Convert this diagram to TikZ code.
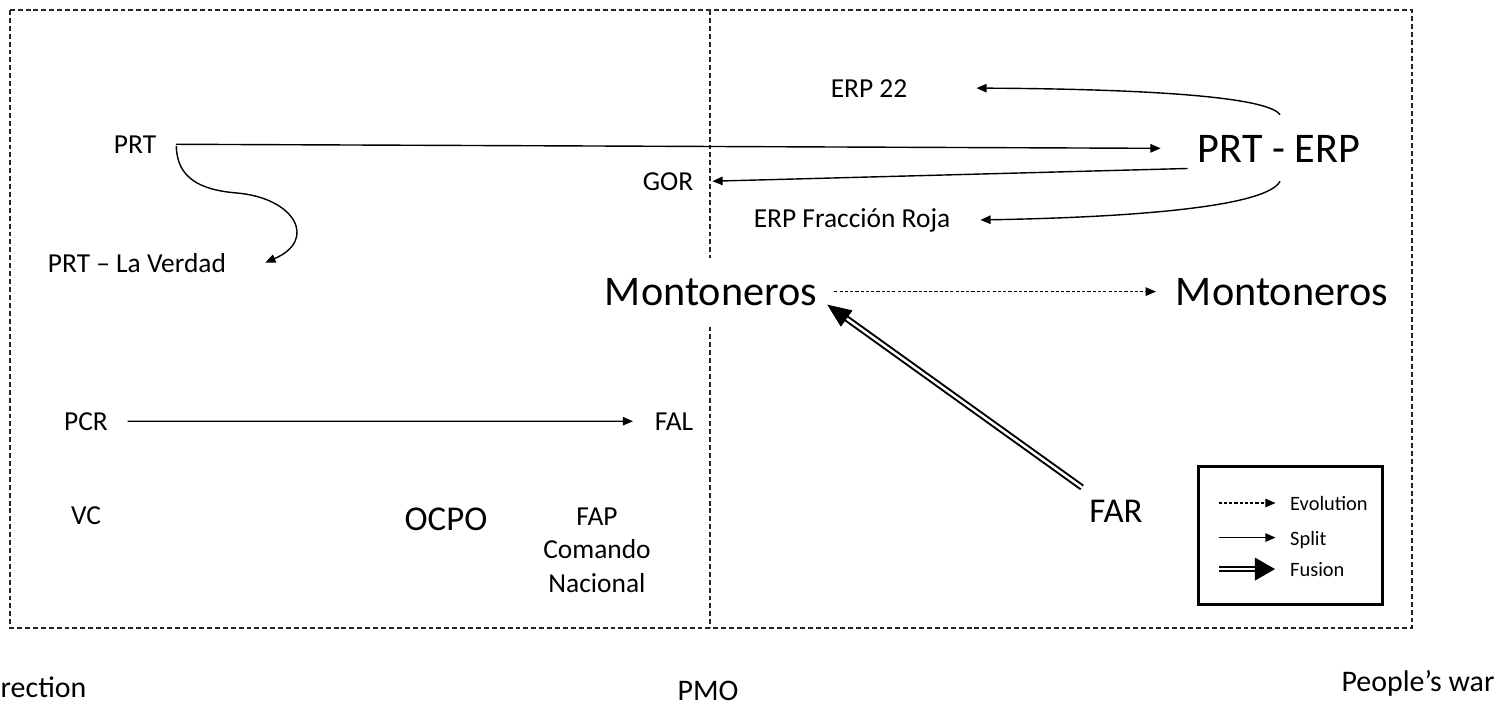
\documentclass[tikz,border=0pt]{standalone}
\usepackage{fontspec}
\setmainfont{Carlito}
\usetikzlibrary{arrows.meta,calc}
\begin{document}
\begin{tikzpicture}[x=0.01cm,y=-0.01cm, inner sep=1pt,
  sm/.style={font=\fontsize{7.8}{9.5}\selectfont},
  md/.style={font=\fontsize{9.9}{12}\selectfont},
  lg/.style={font=\fontsize{12}{14}\selectfont},
  lgd/.style={font=\fontsize{5.8}{7}\selectfont},
  bt/.style={font=\fontsize{8.5}{10}\selectfont},
  tipS/.style={-{Triangle[length=2.9pt,width=2.4pt]}},
  splitarrow/.style={line width=0.4pt,tipS},
  evolarrow/.style={line width=0.35pt,dash pattern=on 0.9pt off 0.6pt,tipS},
  fusionline/.style={double,double distance=0.7pt,line width=0.57pt},
  frameline/.style={line width=0.35pt,black!85,dash pattern=on 1.4pt off 0.85pt}]

\useasboundingbox (0,0) rectangle (1506,705);
% frame
\draw[frameline] (10,10) rectangle (1412,628);
\draw[frameline] (710,10) -- (710,628);

% nodes
\node[sm,anchor=base] (prt) at (135,153) {PRT};
\node[sm,anchor=base] (prtlv) at (137,272) {PRT – La Verdad};
\node[sm,anchor=base] (erp22) at (869,97) {ERP 22};
\node[lg,anchor=base] (prterp) at (1279,162) {PRT - ERP};
\node[sm,anchor=base] (gor) at (668,190) {GOR};
\node[sm,anchor=base] (erpfr) at (852,227) {ERP Fracción Roja};
\node[lg,anchor=base,fill=white,inner ysep=5.8pt] (mont1) at (711,305) {Montoneros};
\node[lg,anchor=base] (mont2) at (1282,305) {Montoneros};
\node[sm,anchor=base] (pcr) at (86,430) {PCR};
\node[sm,anchor=base] (fal) at (674,430) {FAL};
\node[sm,anchor=base] (vc) at (86,524) {VC};
\node[md,anchor=base] (ocpo) at (446,530) {OCPO};
\node[sm,align=center] (fap) at (597,550) {FAP\\Comando\\Nacional};
\node[md,anchor=base] (far) at (1116,522) {FAR};

% connectors
\draw[splitarrow,shorten <=4.4pt,shorten >=9.4pt] (prt.east) -- (prterp.west);
\draw[splitarrow] ($(prt.east)+(16,2)$) .. controls (177,178) and (200,190) .. (237,193)
   .. controls (295,198) and (318,240) .. ($(prtlv.east)+(35,0)$);
\draw[splitarrow] ($(prterp.north)+(1,-16)$) .. controls (1268,97) and (1150,89) .. ($(erp22.east)+(65,0)$);
\draw[splitarrow] ($(prterp.west)+(-6,20)$) -- ($(gor.east)+(15,0)$);
\draw[splitarrow] ($(prterp.south)+(1,15)$) .. controls (1268,205) and (1150,217) .. ($(erpfr.east)+(26,0)$);
\draw[evolarrow,shorten <=3.7pt,shorten >=4.5pt] (mont1.east) -- (mont2.west);
\draw[splitarrow,shorten <=4.4pt,shorten >=5pt] (pcr.east) -- (fal.west);

% fusion FAR -> Montoneros
\coordinate (fusT) at ($(mont1.east)+(6,13)$);
\coordinate (fusS) at ($(far.north)+(-34,-8)$);
\coordinate (fusB) at ($(fusT)!6.8pt!(fusS)$);
\draw[fusionline] (fusS) -- ($(fusT)!4pt!(fusS)$);
\fill (fusT) -- ($(fusB)!2.85pt!90:(fusT)$) -- ($(fusB)!2.85pt!-90:(fusT)$) -- cycle;

% legend
\node[draw,line width=0.95pt,minimum width=1.84cm,minimum height=1.38cm,inner sep=0] (legend) at (1290.5,535.5) {};
\node[lgd,anchor=base west] (lev) at (1286,510) {Evolution};
\node[lgd,anchor=base west] (lsp) at (1286,545) {Split};
\node[lgd,anchor=base west] (lfu) at (1286,576) {Fusion};
\draw[evolarrow] ($(lev.west)+(-67.5,0)$) -- ($(lev.west)+(-10.5,0)$);
\draw[splitarrow] ($(lsp.west)+(-67.5,-2)$) -- ($(lsp.west)+(-10.5,-2)$);
\coordinate (lfT) at ($(lfu.west)+(-11,0)$);
\coordinate (lfS) at ($(lfu.west)+(-67.5,0)$);
\coordinate (lfB) at ($(lfT)!5.7pt!(lfS)$);
\draw[fusionline] (lfS) -- ($(lfT)!3pt!(lfS)$);
\fill (lfT) -- ($(lfB)!3.27pt!90:(lfT)$) -- ($(lfB)!3.27pt!-90:(lfT)$) -- cycle;

% bottom labels
\node[bt,anchor=base west,inner sep=0] (ins) at (0,697) {rection};
\node[bt,anchor=base] (pmo) at (708,700) {PMO};
\node[bt,anchor=base] (pw) at (1418,691) {People’s war};
\end{tikzpicture}
\end{document}
